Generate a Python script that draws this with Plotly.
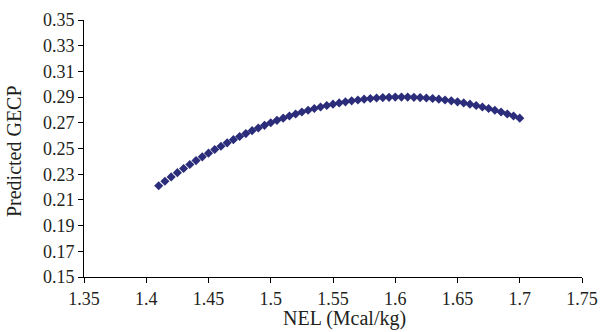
import plotly.graph_objects as go

nel = [1.410, 1.415, 1.420, 1.425, 1.430, 1.435, 1.440, 1.445, 1.450, 1.455,
       1.460, 1.465, 1.470, 1.475, 1.480, 1.485, 1.490, 1.495, 1.500, 1.505,
       1.510, 1.515, 1.520, 1.525, 1.530, 1.535, 1.540, 1.545, 1.550, 1.555,
       1.560, 1.565, 1.570, 1.575, 1.580, 1.585, 1.590, 1.595, 1.600, 1.605,
       1.610, 1.615, 1.620, 1.625, 1.630, 1.635, 1.640, 1.645, 1.650, 1.655,
       1.660, 1.665, 1.670, 1.675, 1.680, 1.685, 1.690, 1.695, 1.700]
gecp = [0.2210, 0.2245, 0.2279, 0.2312, 0.2344, 0.2375, 0.2406, 0.2435, 0.2464, 0.2492,
        0.2518, 0.2544, 0.2569, 0.2593, 0.2616, 0.2639, 0.2660, 0.2680, 0.2700, 0.2719,
        0.2736, 0.2753, 0.2769, 0.2784, 0.2798, 0.2811, 0.2823, 0.2835, 0.2845, 0.2855,
        0.2863, 0.2871, 0.2878, 0.2884, 0.2889, 0.2893, 0.2896, 0.2898, 0.2900, 0.2900,
        0.2900, 0.2898, 0.2896, 0.2893, 0.2889, 0.2884, 0.2878, 0.2871, 0.2863, 0.2855,
        0.2845, 0.2835, 0.2823, 0.2811, 0.2798, 0.2784, 0.2769, 0.2753, 0.2736]

x_ticks = [1.35, 1.40, 1.45, 1.50, 1.55, 1.60, 1.65, 1.70, 1.75]
x_labels = ["1.35", "1.4", "1.45", "1.5", "1.55", "1.6", "1.65", "1.7", "1.75"]
y_ticks = [0.15, 0.17, 0.19, 0.21, 0.23, 0.25, 0.27, 0.29, 0.31, 0.33, 0.35]
y_labels = ["0.15", "0.17", "0.19", "0.21", "0.23", "0.25", "0.27", "0.29", "0.31", "0.33", "0.35"]

x_title = "NEL (Mcal/kg)"
y_title = "Predicted GECP"

FONT = "Liberation Serif"
TEXT = "#231f20"
COLOR = "#2B2C7A"

fig = go.Figure()
fig.add_trace(go.Scatter(
    x=nel, y=gecp, mode="markers",
    marker=dict(symbol="diamond", size=7, color=COLOR, line=dict(width=0)),
    showlegend=False, cliponaxis=False, hoverinfo="skip",
))

axis_common = dict(
    showline=True, linecolor="black", linewidth=1,
    ticks="outside", ticklen=5, tickcolor="black", tickwidth=1,
    showgrid=False, zeroline=False, automargin=False,
    tickfont=dict(family=FONT, size=18, color=TEXT),
)

fig.update_layout(
    width=603, height=332,
    margin=dict(l=84, r=21, t=20, b=55, autoexpand=False),
    paper_bgcolor="white", plot_bgcolor="white",
    font=dict(family=FONT, color=TEXT),
    xaxis=dict(range=[1.35, 1.75], tickvals=x_ticks, ticktext=x_labels, **axis_common),
    yaxis=dict(range=[0.15, 0.35], tickvals=y_ticks, ticktext=y_labels, **axis_common),
    annotations=[
        dict(text=x_title, xref="paper", yref="paper", x=0.523, y=0,
             yshift=-55, xanchor="center", yanchor="bottom", showarrow=False,
             font=dict(family=FONT, size=20, color=TEXT)),
        dict(text=y_title, xref="paper", yref="paper", x=0, y=0.49,
             xshift=-57, xanchor="right", yanchor="middle", showarrow=False,
             textangle=-90, font=dict(family=FONT, size=20, color=TEXT)),
    ],
)

fig.write_html(
    "out.html",
    config={"displayModeBar": False, "staticPlot": True},
    post_script="document.body.style.margin='0';document.body.style.padding='0';",
)
